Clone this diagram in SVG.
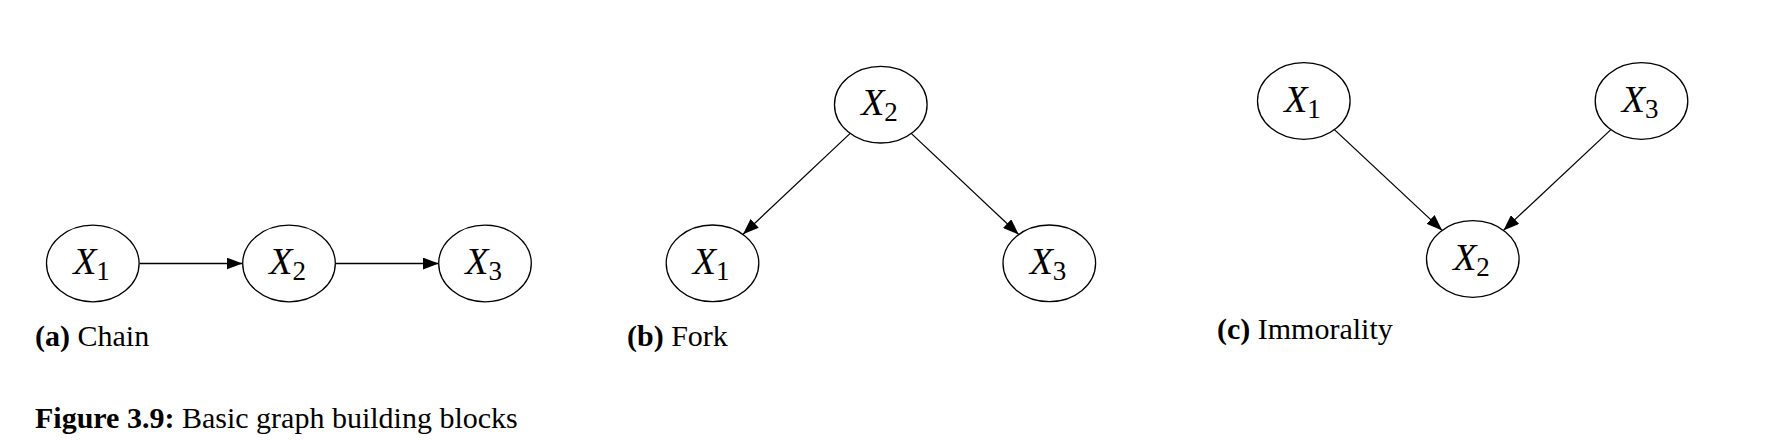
<svg xmlns="http://www.w3.org/2000/svg" width="1792" height="444" viewBox="0 0 1792 444">
<style>
.node ellipse{fill:#fff;stroke:#000;stroke-width:1.3}
.lbl{font-family:"Liberation Serif","Times New Roman",serif;font-size:38px;fill:#000;text-anchor:middle}
.lbl .v{font-style:italic}
.lbl .s{font-size:27px}
.edge{stroke:#000;stroke-width:1.3;fill:none;marker-end:url(#ah)}
.cap{font-family:"Liberation Serif","Times New Roman",serif;font-size:30px;fill:#000}
.cap .b{font-weight:bold}
</style>
<defs>
<marker id="ah" markerUnits="userSpaceOnUse" markerWidth="16" markerHeight="12" refX="16" refY="6" orient="auto">
<path d="M0,0 L16,6 L0,12 z" fill="#000"/>
</marker>
</defs>
<rect width="1792" height="444" fill="#fff"/>
<g id="connectors">
<line class="edge" x1="139.3" y1="263.5" x2="242.5" y2="263.5"/>
<line class="edge" x1="335.5" y1="263.5" x2="438.7" y2="263.5"/>
<line class="edge" x1="850.2" y1="133.4" x2="743" y2="234.3"/>
<line class="edge" x1="911.2" y1="133.4" x2="1018.8" y2="234.6"/>
<line class="edge" x1="1334.4" y1="129.6" x2="1442.2" y2="230.4"/>
<line class="edge" x1="1610.9" y1="129.6" x2="1503.4" y2="230.4"/>
</g>
<g id="a-X1" class="node"><ellipse cx="92.8" cy="263.5" rx="46.3" ry="38.3"/><text class="lbl" x="91.5" y="274"><tspan class="v">X</tspan><tspan class="s" dy="6">1</tspan></text></g>
<g id="a-X2" class="node"><ellipse cx="289" cy="263.5" rx="46.3" ry="38.3"/><text class="lbl" x="287.7" y="274"><tspan class="v">X</tspan><tspan class="s" dy="6">2</tspan></text></g>
<g id="a-X3" class="node"><ellipse cx="485" cy="263.5" rx="46.3" ry="38.3"/><text class="lbl" x="483.7" y="274"><tspan class="v">X</tspan><tspan class="s" dy="6">3</tspan></text></g>
<g id="b-X2" class="node"><ellipse cx="880.8" cy="104.7" rx="46.3" ry="38.3"/><text class="lbl" x="879.5" y="115.2"><tspan class="v">X</tspan><tspan class="s" dy="6">2</tspan></text></g>
<g id="b-X1" class="node"><ellipse cx="712.5" cy="263.3" rx="46.3" ry="38.3"/><text class="lbl" x="711.2" y="273.8"><tspan class="v">X</tspan><tspan class="s" dy="6">1</tspan></text></g>
<g id="b-X3" class="node"><ellipse cx="1049.3" cy="263.3" rx="46.3" ry="38.3"/><text class="lbl" x="1048" y="273.8"><tspan class="v">X</tspan><tspan class="s" dy="6">3</tspan></text></g>
<g id="c-X1" class="node"><ellipse cx="1303.8" cy="101" rx="46.3" ry="38.3"/><text class="lbl" x="1302.5" y="111.5"><tspan class="v">X</tspan><tspan class="s" dy="6">1</tspan></text></g>
<g id="c-X3" class="node"><ellipse cx="1641.5" cy="101" rx="46.3" ry="38.3"/><text class="lbl" x="1640.2" y="111.5"><tspan class="v">X</tspan><tspan class="s" dy="6">3</tspan></text></g>
<g id="c-X2" class="node"><ellipse cx="1472.8" cy="259" rx="46.3" ry="38.3"/><text class="lbl" x="1471.5" y="269.5"><tspan class="v">X</tspan><tspan class="s" dy="6">2</tspan></text></g>
<g id="captions">
<text class="cap" x="35" y="346"><tspan class="b">(a)</tspan> Chain</text>
<text class="cap" x="627" y="346"><tspan class="b">(b)</tspan> Fork</text>
<text class="cap" x="1217" y="339"><tspan class="b">(c)</tspan> Immorality</text>
<text class="cap" x="35" y="428"><tspan class="b">Figure 3.9:</tspan> Basic graph building blocks</text>
</g>
</svg>
